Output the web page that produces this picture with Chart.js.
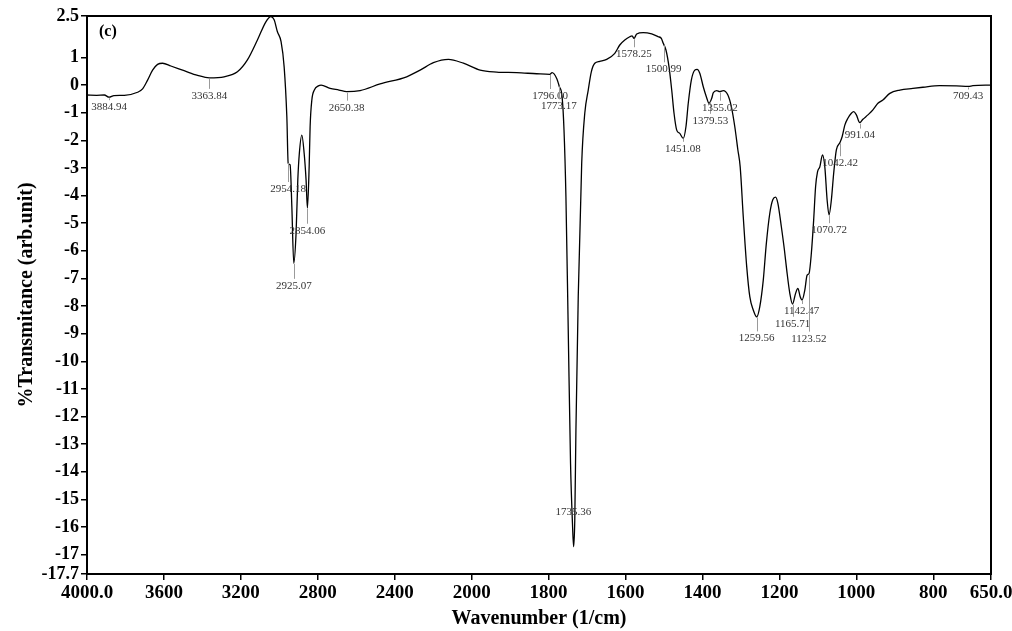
<!DOCTYPE html>
<html>
<head>
<meta charset="utf-8">
<title>FTIR spectrum (c)</title>
<script src="https://cdn.jsdelivr.net/npm/chart.js@4.4.1/dist/chart.umd.min.js"></script>
<style>
  html, body { margin: 0; padding: 0; background: #fff; }
  #wrap { width: 1012px; height: 631px; }
</style>
</head>
<body>
<div id="wrap"><canvas id="ftir" width="1012" height="631"></canvas></div>
<script>
// spectrum: wavenumber (1/cm) vs %T
const wavenumbers = [
  4000, 3950, 3910, 3885, 3860, 3806, 3737, 3711, 3685, 3659, 3633, 3607, 3564, 3495, 3425, 3364,
  3287, 3218, 3166, 3114, 3070, 3044, 3027, 3010, 2991, 2975, 2961, 2954, 2944, 2935, 2925, 2913,
  2904, 2896, 2883, 2871, 2861, 2854, 2845, 2840, 2831, 2818, 2797, 2783, 2736, 2690, 2650, 2580,
  2476, 2338, 2268, 2199, 2121, 2043, 1978, 1935, 1883, 1831, 1797, 1791, 1779, 1772, 1765, 1760,
  1755, 1749, 1743, 1738, 1735, 1732, 1729, 1723, 1714, 1706, 1697, 1689, 1680, 1667, 1649, 1628,
  1615, 1602, 1589, 1583, 1578, 1571, 1554, 1532, 1515, 1507, 1502, 1495, 1487, 1480, 1474, 1467,
  1459, 1450, 1443, 1437, 1429, 1420, 1414, 1407, 1398, 1390, 1383, 1376, 1372, 1363, 1355, 1346,
  1334, 1325, 1316, 1308, 1302, 1294, 1285, 1277, 1268, 1259, 1251, 1242, 1234, 1225, 1217, 1210,
  1204, 1195, 1187, 1181, 1173, 1166, 1158, 1152, 1146, 1141, 1134, 1128, 1123, 1117, 1111, 1106,
  1101, 1095, 1088, 1082, 1076, 1071, 1065, 1059, 1052, 1043, 1037, 1030, 1022, 1013, 1007, 1000,
  991, 983, 970, 957, 944, 931, 913, 887, 853, 827, 784, 740, 709, 697, 650
]
const transmittance = [
  -0.36, -0.37, -0.36, -0.44, -0.38, -0.37, -0.26, -0.14, 0.18, 0.54, 0.75, 0.79, 0.69, 0.52, 0.35, 0.26,
  0.30, 0.48, 0.91, 1.63, 2.29, 2.48, 2.36, 1.93, 1.57, 0.66, -1.15, -2.83, -2.89, -4.40, -6.45, -5.36,
  -3.44, -2.47, -1.81, -2.47, -3.44, -4.45, -2.96, -1.51, -0.54, -0.18, -0.03, 0.00, -0.12, -0.18, -0.24, -0.20,
  0.04, 0.30, 0.54, 0.81, 0.93, 0.79, 0.54, 0.47, 0.45, 0.41, 0.39, 0.45, 0.24, -0.06, -0.42, -1.63,
  -4.04, -8.87, -13.7, -15.87, -16.71, -15.75, -12.49, -7.66, -2.83, -1.02, -0.18, 0.48, 0.79, 0.86, 0.93, 1.15,
  1.45, 1.63, 1.75, 1.78, 1.69, 1.85, 1.90, 1.85, 1.75, 1.69, 1.51, 1.27, 0.66, -0.18, -1.02, -1.63,
  -1.75, -1.93, -1.51, -0.66, 0.18, 0.54, 0.57, 0.43, -0.06, -0.42, -0.66, -0.48, -0.28, -0.20, -0.24, -0.20,
  -0.36, -0.78, -1.51, -2.35, -2.96, -4.77, -6.58, -7.66, -8.14, -8.39, -8.02, -7.06, -5.73, -4.64, -4.14, -4.06,
  -4.28, -5.13, -5.97, -6.70, -7.54, -7.93, -7.54, -7.36, -7.66, -7.78, -7.42, -6.88, -6.82, -6.09, -4.89, -3.68,
  -3.14, -2.96, -2.53, -2.96, -4.16, -4.70, -4.16, -3.20, -2.35, -2.09, -1.87, -1.45, -1.20, -1.02, -0.96, -1.08,
  -1.36, -1.24, -1.08, -0.90, -0.66, -0.54, -0.30, -0.18, -0.12, -0.08, -0.02, -0.03, -0.05, -0.02, 0.00
]

// picked peaks as printed on the figure
const peakWavenumbers = [
  3884.94, 3363.84, 2954.18, 2925.07, 2854.06, 2650.38, 1796.00, 1773.17, 1735.36, 1578.25, 1500.99,
  1451.08, 1379.53, 1355.02, 1259.56, 1165.71, 1142.47, 1123.52, 1070.72, 1042.42, 991.04, 709.43
]
const peakLabels = peakWavenumbers.map((w) => w.toFixed(2))
// label distance below the curve, px (negative = label sits above the tip)
const peakLabelDrop = [10, 18, 27, 23, 23, 16, 22, 21, -32, 16, 25, 11, 20, 16, 22, 20, 12, 65, 16, 21, 13, 10]

const xTickWavenumbers = [4000, 3600, 3200, 2800, 2400, 2000, 1800, 1600, 1400, 1200, 1000, 800, 650]
const yTickValues = [2.5, 1, 0, -1, -2, -3, -4, -5, -6, -7, -8, -9, -10, -11, -12, -13, -14, -15, -16, -17, -17.7]

const SERIF = "'Liberation Serif', 'Times New Roman', serif"

// the instrument halves the scale above 2000 1/cm
function toAxis(w) { return w > 2000 ? 2000 + (w - 2000) / 2 : w }
function fromAxis(u) { return u > 2000 ? 2000 + (u - 2000) * 2 : u }

function valueAt(w) {
  for (let i = 0; i < wavenumbers.length - 1; i++) {
    const a = wavenumbers[i], b = wavenumbers[i + 1]
    if (w <= a && w >= b) {
      const t = (a - w) / (a - b)
      return transmittance[i] + t * (transmittance[i + 1] - transmittance[i])
    }
  }
  return 0
}

const framePlugin = {
  id: "frame",
  afterDraw(chart) {
    const { ctx, chartArea: a } = chart
    ctx.save()
    ctx.strokeStyle = "#000"
    ctx.lineWidth = 2
    ctx.strokeRect(a.left, a.top, a.right - a.left, a.bottom - a.top)
    ctx.fillStyle = "#000"
    ctx.font = "bold 16px " + SERIF
    ctx.textAlign = "left"
    ctx.textBaseline = "middle"
    ctx.fillText("(c)", a.left + 12, a.top + 16)
    ctx.restore()
  },
}

const peakPlugin = {
  id: "peaks",
  afterDatasetsDraw(chart) {
    const { ctx, scales } = chart
    ctx.save()
    ctx.font = "11px " + SERIF
    ctx.textAlign = "center"
    ctx.textBaseline = "middle"
    peakWavenumbers.forEach((w, i) => {
      const px = scales.x.getPixelForValue(toAxis(w))
      const py = scales.y.getPixelForValue(valueAt(w))
      const ly = py + peakLabelDrop[i]
      if (ly - 7 > py + 1) {
        ctx.strokeStyle = "#9a9a9a"
        ctx.lineWidth = 1
        ctx.beginPath()
        ctx.moveTo(Math.round(px) + 0.5, py + 1)
        ctx.lineTo(Math.round(px) + 0.5, ly - 7)
        ctx.stroke()
      }
      ctx.fillStyle = "#333"
      ctx.fillText(peakLabels[i], px, ly)
    })
    ctx.restore()
  },
}

const points = wavenumbers.map((w, i) => ({ x: toAxis(w), y: transmittance[i] }))

new Chart(document.getElementById("ftir").getContext("2d"), {
  type: "line",
  data: {
    datasets: [
      {
        data: points,
        borderColor: "#000",
        borderWidth: 1.3,
        pointRadius: 0,
        cubicInterpolationMode: "monotone",
        fill: false,
      },
    ],
  },
  options: {
    responsive: false,
    animation: false,
    layout: { padding: { top: 16, right: 21, left: 0, bottom: 0 } },
    plugins: {
      legend: { display: false },
      tooltip: { enabled: false },
    },
    scales: {
      x: {
        type: "linear",
        min: toAxis(650),
        max: toAxis(4000),
        reverse: true,
        afterBuildTicks: (s) => { s.ticks = xTickWavenumbers.map((w) => ({ value: toAxis(w) })) },
        afterFit: (s) => { s.height = 57; s.paddingLeft = 0; s.paddingRight = 0 },
        grid: { drawOnChartArea: false, drawTicks: true, tickLength: 6, color: "#000", lineWidth: 1.5 },
        border: { display: true, color: "#000", width: 2 },
        ticks: {
          autoSkip: false,
          maxRotation: 0,
          padding: 2,
          color: "#000",
          font: { family: SERIF, size: 19, weight: "bold" },
          callback: (v) => {
            const w = Math.round(fromAxis(v))
            return w === 4000 || w === 650 ? w.toFixed(1) : String(w)
          },
        },
        title: {
          display: true,
          text: "Wavenumber (1/cm)",
          color: "#000",
          font: { family: SERIF, size: 20, weight: "bold" },
          padding: { top: 0, bottom: 0 },
        },
      },
      y: {
        type: "linear",
        min: -17.7,
        max: 2.5,
        afterBuildTicks: (s) => { s.ticks = yTickValues.map((v) => ({ value: v })) },
        afterFit: (s) => { s.width = 87; s.paddingTop = 0; s.paddingBottom = 0 },
        grid: { drawOnChartArea: false, drawTicks: true, tickLength: 6, color: "#000", lineWidth: 1.5 },
        border: { display: true, color: "#000", width: 2 },
        ticks: {
          autoSkip: false,
          padding: 2,
          color: "#000",
          font: { family: SERIF, size: 18, weight: "bold" },
          callback: (v) => String(v),
        },
        title: {
          display: true,
          text: "%Transmitance (arb.unit)",
          color: "#000",
          font: { family: SERIF, size: 20, weight: "bold" },
          padding: { top: 15, bottom: 0 },
        },
      },
    },
  },
  plugins: [framePlugin, peakPlugin],
})
</script>
</body>
</html>
